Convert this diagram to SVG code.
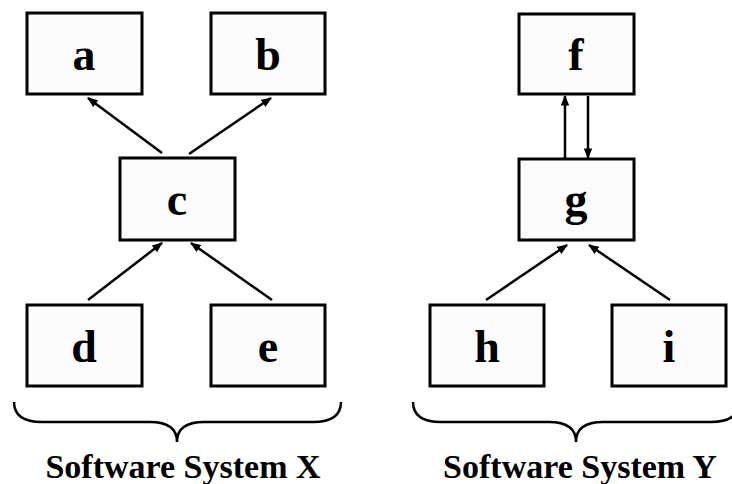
<svg xmlns="http://www.w3.org/2000/svg" width="732" height="484" viewBox="0 0 732 484">
<style>
.box{fill:#fcfcfc;stroke:#000;stroke-width:3}
.lbl{font-family:"Liberation Serif",serif;font-weight:bold;font-size:46px;text-anchor:middle}
.cap{font-family:"Liberation Serif",serif;font-weight:bold;font-size:34px;text-anchor:middle}
.edge{stroke:#000;stroke-width:2.5;fill:none;marker-end:url(#ah)}
.brace{stroke:#000;stroke-width:2.5;fill:none}
</style>
<defs>
<marker id="ah" viewBox="0 0 10 8" refX="9" refY="4" markerWidth="4.4" markerHeight="3.4" orient="auto" markerUnits="strokeWidth">
<path d="M0,0 L10,4 L0,8 z" fill="#000"/>
</marker>
</defs>
<rect width="732" height="484" fill="#fff"/>
<g id="connectors">
<line class="edge" x1="162" y1="153" x2="88" y2="98"/>
<line class="edge" x1="189" y1="154" x2="271" y2="98"/>
<line class="edge" x1="88" y1="300" x2="162" y2="243"/>
<line class="edge" x1="272" y1="300" x2="191" y2="243"/>
<line class="edge" x1="565" y1="158" x2="565" y2="96"/>
<line class="edge" x1="588" y1="96" x2="588" y2="158"/>
<line class="edge" x1="486" y1="300" x2="567" y2="245"/>
<line class="edge" x1="670" y1="300" x2="589" y2="245"/>
</g>
<g id="node-a"><rect class="box" x="27" y="13" width="115" height="81"/><text class="lbl" x="84" y="70">a</text></g>
<g id="node-b"><rect class="box" x="211" y="13" width="114" height="81"/><text class="lbl" x="268" y="70">b</text></g>
<g id="node-c"><rect class="box" x="120" y="158" width="115" height="82"/><text class="lbl" x="177" y="215">c</text></g>
<g id="node-d"><rect class="box" x="27" y="305" width="115" height="81"/><text class="lbl" x="84" y="362">d</text></g>
<g id="node-e"><rect class="box" x="211" y="305" width="114" height="81"/><text class="lbl" x="268" y="362">e</text></g>
<g id="node-f"><rect class="box" x="519" y="14" width="115" height="80"/><text class="lbl" x="576" y="70">f</text></g>
<g id="node-g"><rect class="box" x="519" y="159" width="115" height="81"/><text class="lbl" x="576" y="215">g</text></g>
<g id="node-h"><rect class="box" x="430" y="305" width="114" height="81"/><text class="lbl" x="487" y="362">h</text></g>
<g id="node-i"><rect class="box" x="612" y="305" width="114" height="81"/><text class="lbl" x="669" y="362">i</text></g>
<g id="group-x">
<path class="brace" d="M14,402 Q14,422 42,422 L150,422 Q177,422 177,442 Q177,422 204,422 L313,422 Q341,422 341,402"/>
<text class="cap" x="183" y="478">Software System X</text>
</g>
<g id="group-y">
<path class="brace" d="M413,402 Q413,422 441,422 L549,422 Q576,422 576,442 Q576,422 603,422 L711,422 Q739,422 739,402"/>
<text class="cap" x="580" y="478">Software System Y</text>
</g>
</svg>
